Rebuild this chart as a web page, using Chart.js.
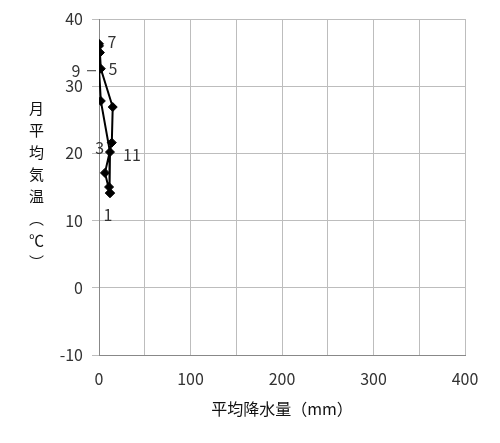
<!DOCTYPE html>
<html lang="ja">
<head>
  <meta charset="UTF-8">
  <title>月平均気温と平均降水量</title>
  <script src="https://cdn.jsdelivr.net/npm/chart.js"></script>
  <style>
    body {
      margin: 0;
      background: #fff;
    }
    #wrap {
      position: relative;
      width: 500px;
      height: 443px;
    }
    /* y-axis title written vertically, like the original */
    #ytitle {
      position: absolute;
      left: 28px;
      top: 101px;
      writing-mode: vertical-rl;
      font-family: 'Noto Sans CJK JP', sans-serif;
      font-size: 15px;
      line-height: 16px;
      letter-spacing: 7px;
      color: #111;
    }
  </style>
</head>
<body>
  <div id="wrap">
    <canvas id="chart" width="500" height="443"></canvas>
    <div id="ytitle">月平均気温（℃）</div>
  </div>

  <script>
    // monthly values
    const months = [1, 2, 3, 4, 5, 6, 7, 8, 9, 10, 11, 12];
    const precipitation = [12, 6.5, 14, 15, 2, 1, 0, 0, 0, 2, 12, 11];
    const temperature = [14.1, 17.1, 21.6, 26.9, 32.6, 35.0, 36.3, 36.0, 32.6, 27.8, 20.2, 15.0];
    const labelledMonths = [1, 3, 5, 7, 9, 11];

    // where each month number sits relative to its marker
    const labelOffsets = {
      1: [-2, 22],
      3: [-12, 5],
      5: [12, 0],
      7: [13, -2],
      9: [-23, 2],
      11: [22, 3]
    };

    const FONT = "'Noto Sans CJK JP', 'Noto Sans', sans-serif";
    Chart.defaults.font.family = FONT;

    // loop closes back on January
    const points = months.map((m, i) => ({ x: precipitation[i], y: temperature[i] }));
    points.push(points[0]);

    const monthLabels = {
      id: 'monthLabels',
      afterDatasetsDraw(chart) {
        const ctx = chart.ctx;
        const meta = chart.getDatasetMeta(0);
        ctx.save();
        ctx.font = '16px ' + FONT;
        ctx.fillStyle = '#333';
        ctx.textAlign = 'center';
        ctx.textBaseline = 'middle';
        labelledMonths.forEach(m => {
          const el = meta.data[m - 1];
          const [dx, dy] = labelOffsets[m];
          ctx.fillText(String(m), el.x + dx, el.y + dy);
          if (m === 9) {
            // little leader line from the label to the marker
            ctx.strokeStyle = '#333';
            ctx.lineWidth = 1;
            ctx.beginPath();
            ctx.moveTo(el.x + dx + 11, el.y + dy);
            ctx.lineTo(el.x - 3, el.y + dy);
            ctx.stroke();
          }
        });
        ctx.restore();
      }
    };

    new Chart(document.getElementById('chart'), {
      type: 'scatter',
      data: {
        datasets: [{
          data: points,
          showLine: true,
          borderColor: '#000',
          borderWidth: 2,
          backgroundColor: '#000',
          pointStyle: 'rectRot',
          pointRadius: 4.5,
          pointBorderWidth: 1,
          tension: 0
        }]
      },
      options: {
        responsive: false,
        animation: false,
        layout: {
          padding: { left: 0, top: 19, right: 35, bottom: 0 }
        },
        plugins: {
          legend: { display: false },
          tooltip: { enabled: false }
        },
        scales: {
          x: {
            type: 'linear',
            min: 0,
            max: 400,
            afterFit(scale) { scale.height = 88; },
            ticks: {
              stepSize: 50,
              padding: 14,
              color: '#333',
              font: { size: 16 },
              maxRotation: 0,
              callback: v => (v % 100 === 0 ? v : '')
            },
            grid: {
              color: '#bdbdbd',
              drawTicks: false
            },
            border: { color: '#888' },
            title: {
              display: true,
              text: '平均降水量（mm）',
              color: '#111',
              font: { size: 16 },
              padding: { top: 0, bottom: 24 }
            }
          },
          y: {
            min: -10,
            max: 40,
            afterFit(scale) { scale.width = 99; },
            ticks: {
              stepSize: 10,
              padding: 9,
              color: '#333',
              font: { size: 16 }
            },
            grid: {
              color: '#bdbdbd',
              tickLength: 7
            },
            border: { color: '#888' }
          }
        }
      },
      plugins: [monthLabels]
    });
  </script>
</body>
</html>
